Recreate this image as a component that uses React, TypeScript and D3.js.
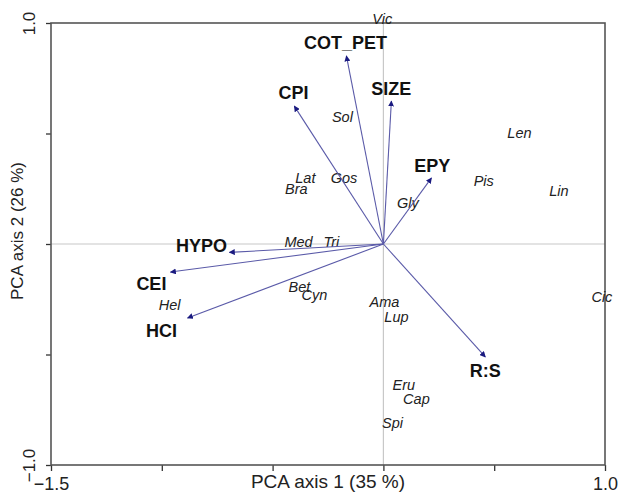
import React, { useRef, useEffect } from "react";
import * as d3 from "d3";

// variable arrows: end point of arrow and label position (PCA coordinates)
const varNames = ["COT_PET", "CPI", "SIZE", "EPY", "HYPO", "CEI", "HCI", "R:S"];
const varX = [-0.167, -0.402, 0.036, 0.217, -0.695, -0.961, -0.884, 0.46];
const varY = [0.851, 0.624, 0.647, 0.299, -0.038, -0.127, -0.335, -0.511];
const varLabelX = [-0.171, -0.406, 0.036, 0.221, -0.821, -1.047, -1.001, 0.46];
const varLabelY = [0.91, 0.683, 0.701, 0.353, -0.009, -0.181, -0.394, -0.575];

// species scores
const speciesNames = [
  "Vic", "Sol", "Lat", "Bra", "Gos", "Gly", "Med", "Tri", "Len", "Pis",
  "Lin", "Hel", "Bet", "Cyn", "Ama", "Lup", "Cic", "Eru", "Cap", "Spi",
];
const speciesX = [
  -0.005, -0.185, -0.352, -0.393, -0.178, 0.11, -0.383, -0.235, 0.614, 0.453,
  0.792, -0.965, -0.379, -0.311, 0.005, 0.059, 0.986, 0.092, 0.149, 0.041,
];
const speciesY = [
  1.018, 0.575, 0.299, 0.249, 0.299, 0.186, 0.009, 0.009, 0.502, 0.285,
  0.24, -0.276, -0.195, -0.231, -0.262, -0.33, -0.24, -0.638, -0.701, -0.81,
];

const xTicks = [-1.5, -1.0, -0.5, 0, 0.5, 1.0];
const yTicks = [-1.0, -0.5, 0, 0.5, 1.0];
const xTickLabels = ["\u22121.5", "", "", "", "", "1.0"];
const yTickLabels = ["\u22121.0", "", "", "", "1.0"];

const App = () => {
  const svgRef = useRef<SVGSVGElement>(null);

  useEffect(() => {
    const margin = { top: 23, right: 21, bottom: 35, left: 51 },
      width = 626 - margin.left - margin.right,
      height = 500 - margin.top - margin.bottom;

    d3.select(svgRef.current).selectAll("*").remove();

    const root = d3
      .select(svgRef.current)
      .attr("width", 626)
      .attr("height", 500)
      .style("font-family", "'Liberation Sans', Arial, sans-serif");

    root
      .append("defs")
      .append("marker")
      .attr("id", "head")
      .attr("viewBox", "0 0 10 10")
      .attr("refX", 9)
      .attr("refY", 5)
      .attr("markerWidth", 6)
      .attr("markerHeight", 6)
      .attr("markerUnits", "userSpaceOnUse")
      .attr("orient", "auto")
      .append("path")
      .attr("d", "M0,0 L10,5 L0,10 Z")
      .attr("fill", "#1a1a80");

    const svg = root
      .append("g")
      .attr("transform", `translate(${margin.left},${margin.top})`);

    const x = d3.scaleLinear().domain([-1.5, 1.0]).range([0, width]);
    const y = d3.scaleLinear().domain([-1.0, 1.0]).range([height, 0]);

    // zero lines
    svg
      .append("line")
      .attr("x1", x(0))
      .attr("x2", x(0))
      .attr("y1", 0)
      .attr("y2", height)
      .attr("stroke", "#c8c8c8")
      .attr("stroke-width", 1.2);
    svg
      .append("line")
      .attr("x1", 0)
      .attr("x2", width)
      .attr("y1", y(0))
      .attr("y2", y(0))
      .attr("stroke", "#c8c8c8")
      .attr("stroke-width", 1.2);

    // axes
    const xAxis = svg
      .append("g")
      .attr("transform", `translate(0,${height})`)
      .call(
        d3
          .axisBottom(x)
          .tickValues(xTicks)
          .tickSize(6)
          .tickFormat((d, i) => xTickLabels[i])
      );
    const yAxis = svg.append("g").call(
      d3
        .axisLeft(y)
        .tickValues(yTicks)
        .tickSize(5)
        .tickFormat(() => "")
    );
    [xAxis, yAxis].forEach((a) => {
      a.select(".domain").remove();
      a.selectAll(".tick line").attr("stroke", "#333").attr("stroke-width", 1.3);
    });
    xAxis
      .selectAll(".tick text")
      .attr("font-size", 18)
      .attr("fill", "#222")
      .attr("font-family", "'Liberation Sans', Arial, sans-serif")
      .attr("y", 25)
      .attr("dy", null);

    yAxis
      .selectAll(".tick")
      .append("text")
      .attr("transform", "translate(-16,0) rotate(-90)")
      .attr("text-anchor", "middle")
      .attr("font-size", 17)
      .attr("fill", "#222")
      .text((d, i) => yTickLabels[i]);

    // frame
    svg
      .append("rect")
      .attr("width", width)
      .attr("height", height)
      .attr("fill", "none")
      .attr("stroke", "#555")
      .attr("stroke-width", 1.6);

    // axis titles
    svg
      .append("text")
      .attr("x", width / 2)
      .attr("y", height + 23)
      .attr("text-anchor", "middle")
      .attr("font-size", 19)
      .attr("fill", "#222")
      .text("PCA axis 1 (35 %)");
    svg
      .append("text")
      .attr("transform", `translate(${-28},${y(0) - 13}) rotate(-90)`)
      .attr("text-anchor", "middle")
      .attr("font-size", 17)
      .attr("fill", "#222")
      .text("PCA axis 2 (26 %)");

    // species labels
    svg
      .selectAll(".sp")
      .data(speciesNames)
      .enter()
      .append("text")
      .attr("class", "sp")
      .attr("x", (d, i) => x(speciesX[i]))
      .attr("y", (d, i) => y(speciesY[i]))
      .attr("text-anchor", "middle")
      .attr("dominant-baseline", "central")
      .attr("font-size", 14.5)
      .attr("font-style", "italic")
      .attr("fill", "#222")
      .text((d) => d);

    // variable arrows
    svg
      .selectAll(".arrow")
      .data(varNames)
      .enter()
      .append("line")
      .attr("class", "arrow")
      .attr("x1", x(0))
      .attr("y1", y(0))
      .attr("x2", (d, i) => x(varX[i]))
      .attr("y2", (d, i) => y(varY[i]))
      .attr("stroke", "#5a5aa8")
      .attr("stroke-width", 1.1)
      .attr("marker-end", "url(#head)");

    svg
      .selectAll(".vlab")
      .data(varNames)
      .enter()
      .append("text")
      .attr("class", "vlab")
      .attr("x", (d, i) => x(varLabelX[i]))
      .attr("y", (d, i) => y(varLabelY[i]))
      .attr("text-anchor", "middle")
      .attr("dominant-baseline", "central")
      .attr("font-size", 18)
      .attr("font-weight", "bold")
      .attr("fill", "#111")
      .text((d) => d);
  }, []);

  return (
    <svg
      ref={svgRef}
      style={{ position: "absolute", left: 0, top: 0, background: "#fff" }}
    ></svg>
  );
};

export default App;
